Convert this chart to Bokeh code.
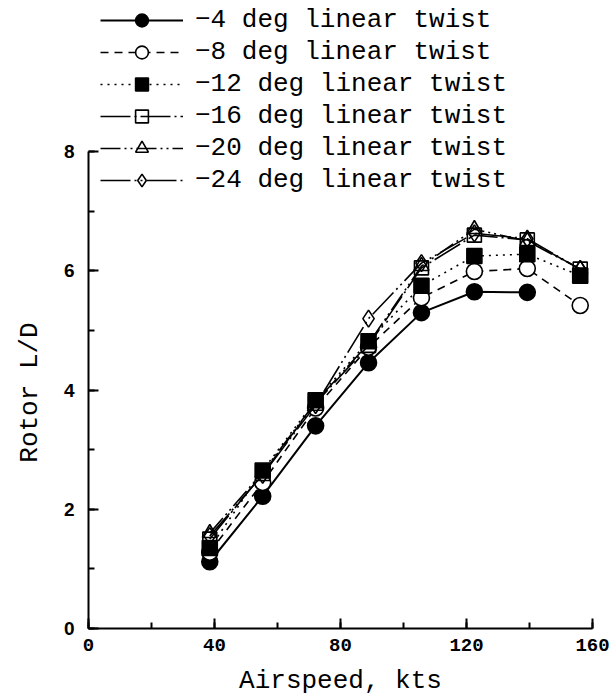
from bokeh.plotting import figure
from bokeh.models import Range1d, SingleIntervalTicker, Legend, LegendItem
from bokeh.embed import file_html
from bokeh.resources import INLINE

airspeed = [38.5, 55.3, 72.1, 88.9, 105.7, 122.5, 139.3, 156.1]

ld_m4 = [1.12, 2.22, 3.40, 4.46, 5.30, 5.65, 5.64]
ld_m8 = [1.28, 2.45, 3.70, 4.72, 5.55, 5.99, 6.04, 5.42]
ld_m12 = [1.35, 2.65, 3.83, 4.82, 5.75, 6.25, 6.28, 5.92]
ld_m16 = [1.50, 2.60, 3.78, 4.75, 6.05, 6.60, 6.52, 6.03]
ld_m20 = [1.60, 2.62, 3.80, 4.78, 6.08, 6.70, 6.50, 6.03]
ld_m24 = [1.55, 2.58, 3.75, 5.20, 6.13, 6.63, 6.54, 6.03]

labels = ["\u22124 deg linear twist", "\u22128 deg linear twist", "\u221212 deg linear twist",
          "\u221216 deg linear twist", "\u221220 deg linear twist", "\u221224 deg linear twist"]

series = [ld_m4, ld_m8, ld_m12, ld_m16, ld_m20, ld_m24]
styles = [
    dict(dash="solid", marker="circle", size=16, fill="black", lw=2),
    dict(dash="8 6", marker="circle", size=16, fill="white", lw=1.6),
    dict(dash="2 5", marker="square", size=15, fill="black", lw=1.6),
    dict(dash="30 4 2 4", marker="square", size=14, fill=None, lw=1.6),
    dict(dash="20 4 2 4 2 4", marker="triangle", size=15, fill=None, lw=1.6),
    dict(dash="30 4 2 4 2 4", marker="diamond", size=17, fill=None, lw=1.6),
]

p = figure(width=613, height=698, output_backend="svg", toolbar_location=None,
           x_range=Range1d(0, 160), y_range=Range1d(0, 628 / 59.6),
           min_border_left=88, min_border_right=21, min_border_top=0, min_border_bottom=70)
p.outline_line_color = None
p.grid.visible = False
p.background_fill_color = "white"

items = []
for vals, st, lab in zip(series, styles, labels):
    xs = airspeed[:len(vals)]
    r1 = p.line(xs, vals, line_color="black", line_width=st["lw"], line_dash=st["dash"])
    r2 = p.scatter(xs, vals, marker=st["marker"], size=st["size"], line_color="black",
                   line_width=1.6, fill_color=st["fill"])
    items.append(LegendItem(label=lab, renderers=[r1, r2]))

legend = Legend(items=items, location=(12, 432), padding=0, margin=0,
                glyph_width=83, glyph_height=32, label_height=32, spacing=0,
                label_standoff=12, border_line_color=None, background_fill_alpha=0,
                label_text_font="Liberation Mono", label_text_font_size="26px",
                label_text_color="black")
p.add_layout(legend, "center")

for ax, interval, bnds in ((p.xaxis[0], 40, (0, 160)), (p.yaxis[0], 2, (0, 8))):
    ax.ticker = SingleIntervalTicker(interval=interval, num_minor_ticks=2)
    ax.bounds = bnds
    ax.axis_line_width = 2
    ax.axis_line_color = "black"
    ax.major_tick_in = 10
    ax.major_tick_out = 0
    ax.minor_tick_in = 6
    ax.minor_tick_out = 0
    ax.major_tick_line_width = 2
    ax.minor_tick_line_width = 2
    ax.major_label_text_font_style = "bold"
    ax.major_label_text_color = "black"
    ax.major_label_text_font_size = "19px"
    ax.axis_label_text_font = "Liberation Mono"
    ax.axis_label_text_font_size = "26px"
    ax.axis_label_text_font_style = "normal"
    ax.axis_label_text_color = "black"

p.xaxis.major_label_text_font = "Liberation Mono"
p.yaxis.major_label_text_font = "Liberation Sans"
p.xaxis.axis_label = "Airspeed, kts"
# trailing no-break spaces centre the visible title on the 0-8 span of the axis
p.yaxis.axis_label = "Rotor L/D" + "\u00a0" * 10
p.xaxis.major_label_standoff = 10
p.yaxis.major_label_standoff = 14
p.xaxis.axis_label_standoff = 12
p.yaxis.axis_label_standoff = 16

open("out.html", "w").write(file_html(p, INLINE))
